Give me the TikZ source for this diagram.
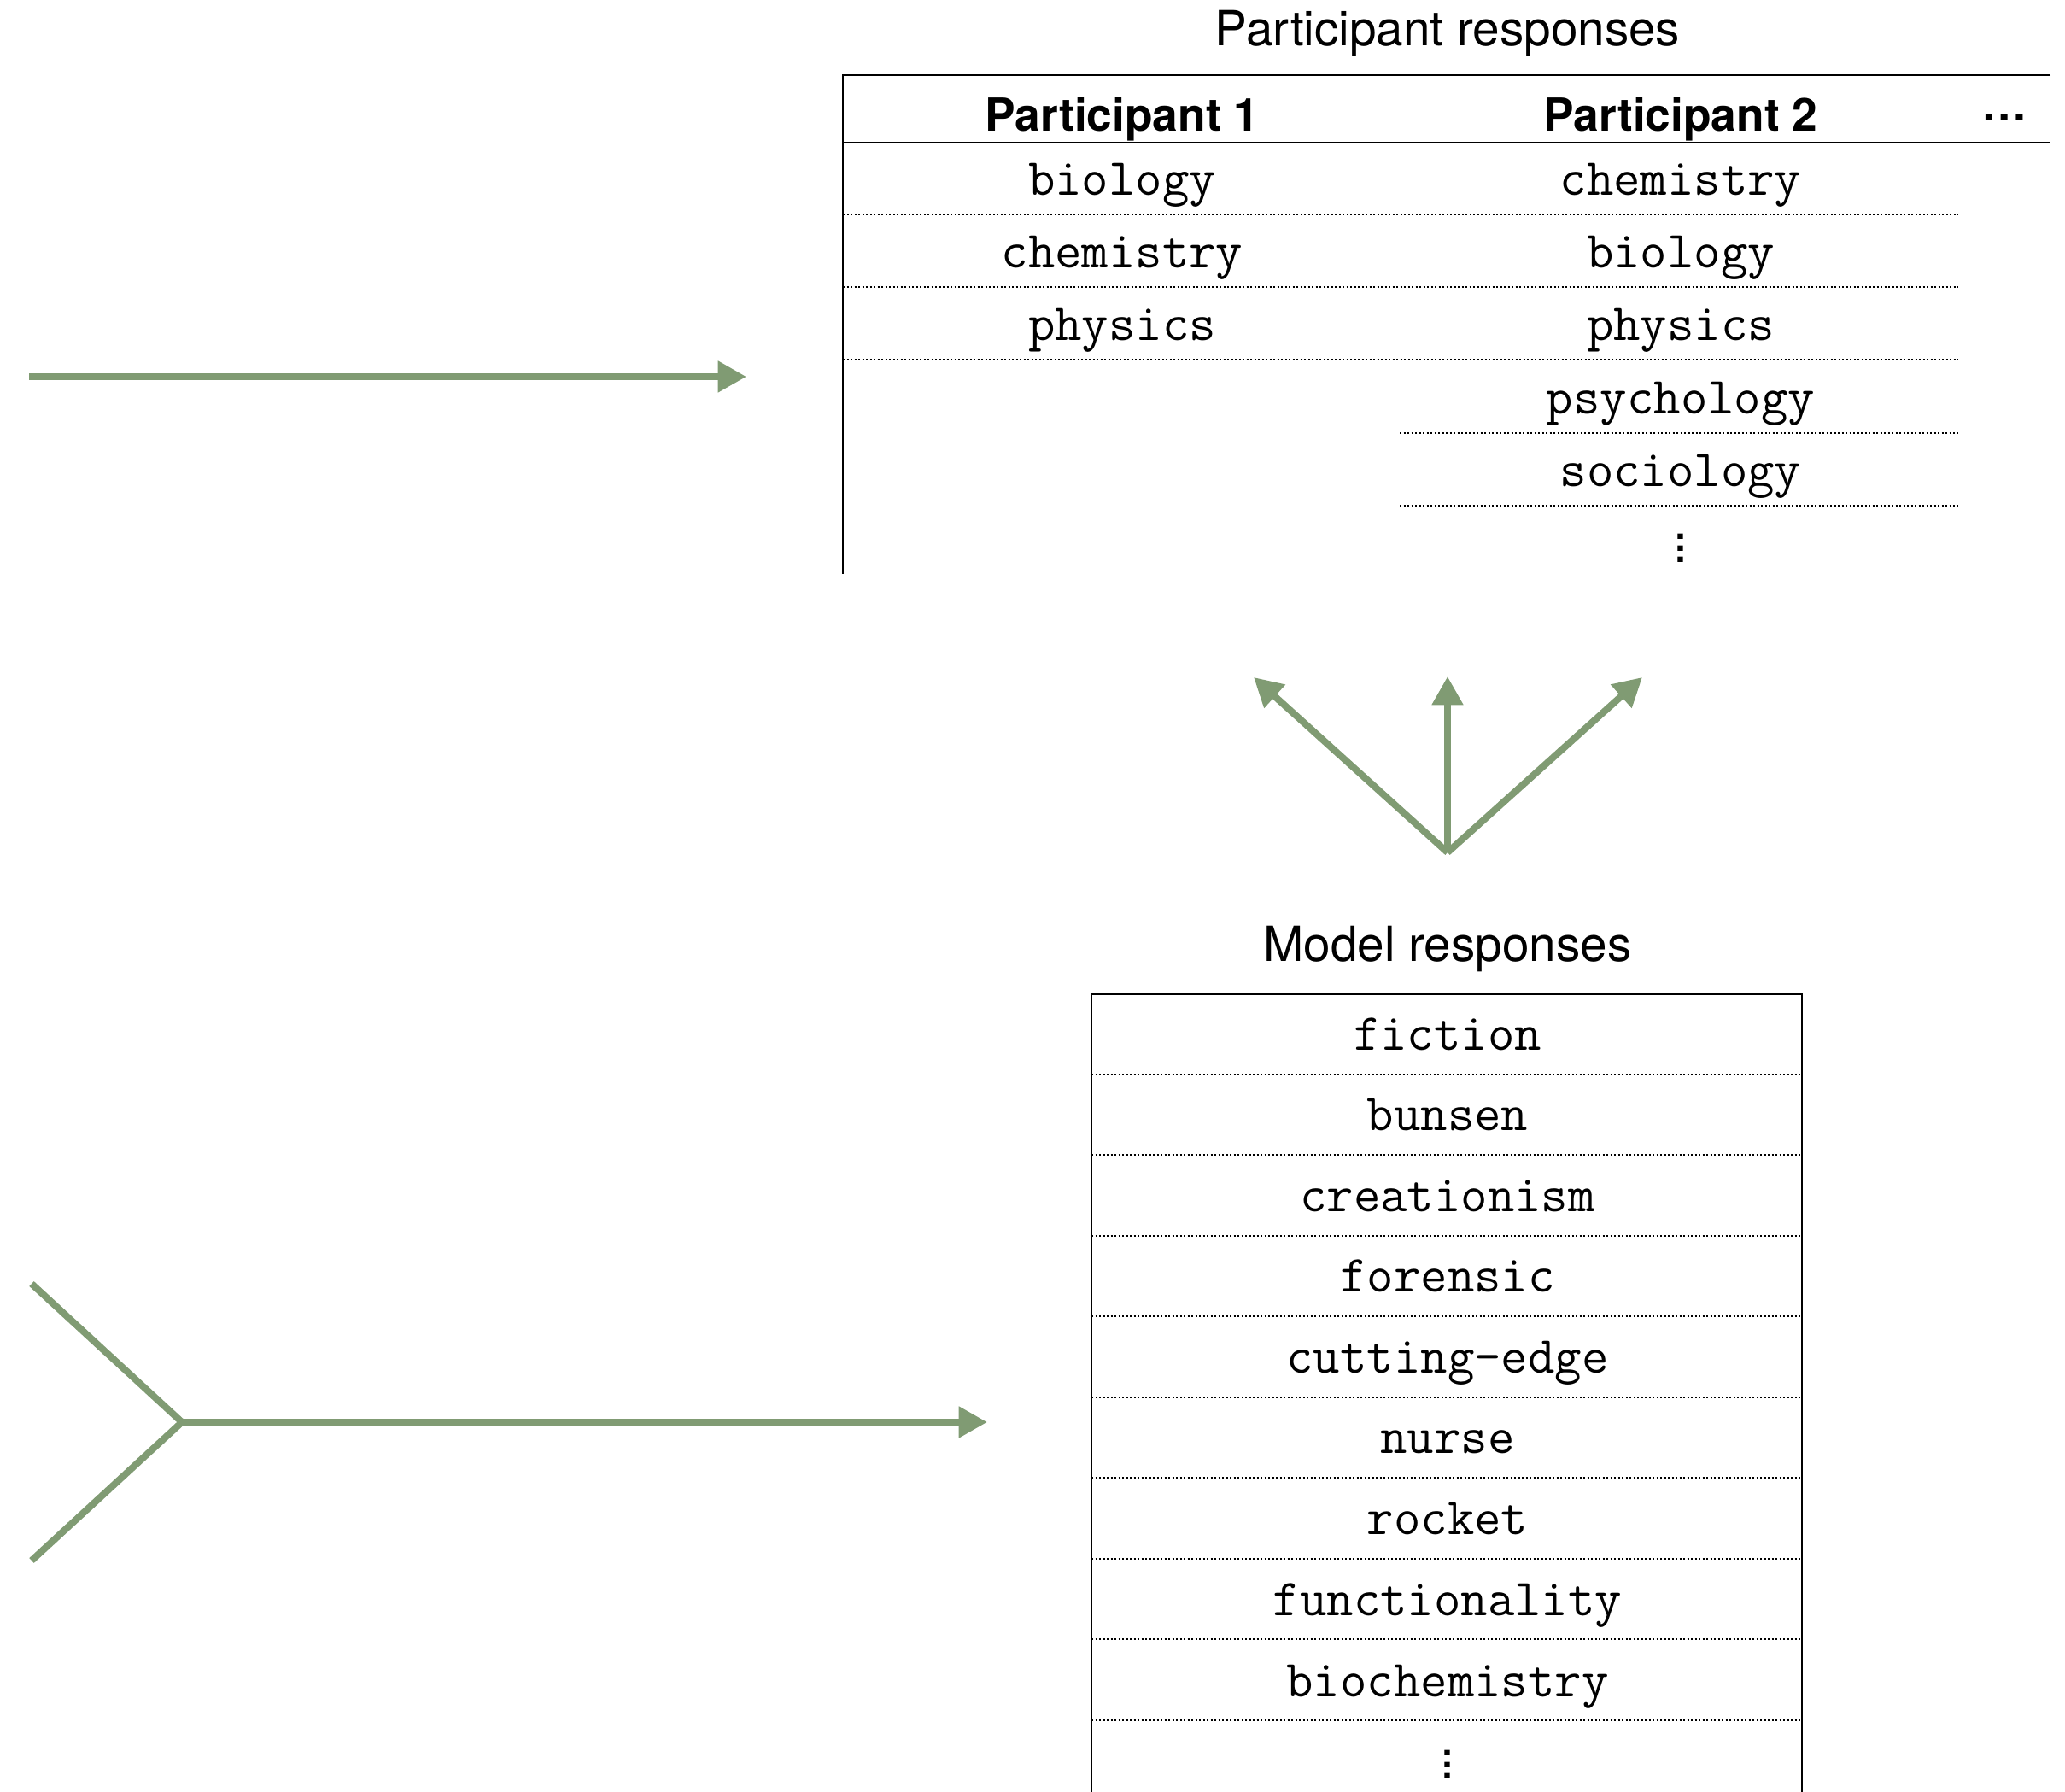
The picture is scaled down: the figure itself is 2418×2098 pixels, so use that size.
\documentclass[tikz,border=0pt]{standalone}
\usepackage{fontspec}
\setmainfont{TeX Gyre Heros}
\usepackage{tikz}
\usetikzlibrary{arrows.meta}

\definecolor{flowgreen}{RGB}{128,155,115}

\tikzset{
  flowline/.style={draw=flowgreen, line width=2.4pt},
  flowarrow/.style={flowline, -{Triangle[length=10pt,width=10.5pt]}},
  tabletitle/.style={font=\fontsize{17}{20}\selectfont, inner sep=0pt},
  colhead/.style={font=\fontsize{16}{19}\selectfont\bfseries, inner sep=0pt, text height=1.26em, text depth=0.2em},
  word/.style={font=\fontsize{18.3}{21}\selectfont\ttfamily, inner sep=0pt, text height=1.12em, text depth=0.22em},
  moredots/.style={font=\fontsize{18.3}{21}\selectfont, inner sep=0pt},
  rowsep/.style={line width=0.6pt, dash pattern=on 0.6pt off 0.75pt},
  tablerule/.style={line width=0.7pt}
}

\begin{document}
\begin{tikzpicture}[x=0.3pt,y=0.3pt,yscale=-1,xscale=1]
\useasboundingbox (0,0) rectangle (2418,2098);

% Participant table
\draw (1695,39) node (ptitle) [tabletitle] {Participant responses};
\draw [tablerule] (2401,88) -- (987,88) -- (987,672);
\draw [tablerule] (987,167) -- (2401,167);
% Text Node
\draw (1314,136) node (phead1) [colhead] {Participant 1};
% Text Node
\draw (1968,136) node (phead2) [colhead] {Participant 2};
% Text Node
\draw (2347,136) node (pmore) [colhead] {\raisebox{0.23em}{\dots}};

% first participant
\draw (1314,214) node (pa1) [word] {biology};
\draw (1314,299) node (pa2) [word] {chemistry};
\draw (1314,384) node (pa3) [word] {physics};
% second participant
\draw (1968,214) node (pb1) [word] {chemistry};
\draw (1968,299) node (pb2) [word] {biology};
\draw (1968,384) node (pb3) [word] {physics};
\draw (1968,470) node (pb4) [word] {psychology};
\draw (1968,555) node (pb5) [word] {sociology};
\draw (1968,632) node (pb6) [moredots] {$\vdots$};

\draw [rowsep] (987,251) -- (2293,251);
\draw [rowsep] (987,336) -- (2293,336);
\draw [rowsep] (987,421) -- (2293,421);
\draw [rowsep] (1639,507) -- (2293,507);
\draw [rowsep] (1639,592) -- (2293,592);

% Model table
\draw (1695,1111) node (mtitle) [tabletitle] {Model responses};
\draw [tablerule] (1278,2098) -- (1278,1164) -- (2110,1164) -- (2110,2098);

\draw (1695,1215) node (m1) [word] {fiction};
\draw (1695,1309) node (m2) [word] {bunsen};
\draw (1695,1404) node (m3) [word] {creationism};
\draw (1695,1498) node (m4) [word] {forensic};
\draw (1695,1593) node (m5) [word] {cutting-edge};
\draw (1695,1687) node (m6) [word] {nurse};
\draw (1695,1782) node (m7) [word] {rocket};
\draw (1695,1876) node (m8) [word] {functionality};
\draw (1695,1971) node (m9) [word] {biochemistry};
\draw (1695,2056) node (m10) [moredots] {$\vdots$};

\draw [rowsep] (1278,1258) -- (2110,1258);
\draw [rowsep] (1278,1352) -- (2110,1352);
\draw [rowsep] (1278,1447) -- (2110,1447);
\draw [rowsep] (1278,1541) -- (2110,1541);
\draw [rowsep] (1278,1636) -- (2110,1636);
\draw [rowsep] (1278,1730) -- (2110,1730);
\draw [rowsep] (1278,1825) -- (2110,1825);
\draw [rowsep] (1278,1919) -- (2110,1919);
\draw [rowsep] (1278,2014) -- (2110,2014);

% Arrows
\coordinate (topstart) at (34,441);
\coordinate (topend) at (874,441);
\draw [flowarrow] (topstart) -- (topend);

\coordinate (fork) at (1695,998);
\coordinate (forkleft) at (1468,793);
\coordinate (forkmid) at (1695,792);
\coordinate (forkright) at (1923,793);
\draw [flowarrow] (fork) -- (forkleft);
\draw [flowarrow] (fork) -- (forkmid);
\draw [flowarrow] (fork) -- (forkright);

\coordinate (joinupper) at (37,1503);
\coordinate (joinlower) at (37,1827);
\coordinate (join) at (213,1665);
\coordinate (joinend) at (1156,1665);
\draw [flowline, line join=miter] (joinupper) -- (join) -- (joinlower);
\draw [flowarrow] (join) -- (joinend);

\end{tikzpicture}
\end{document}
